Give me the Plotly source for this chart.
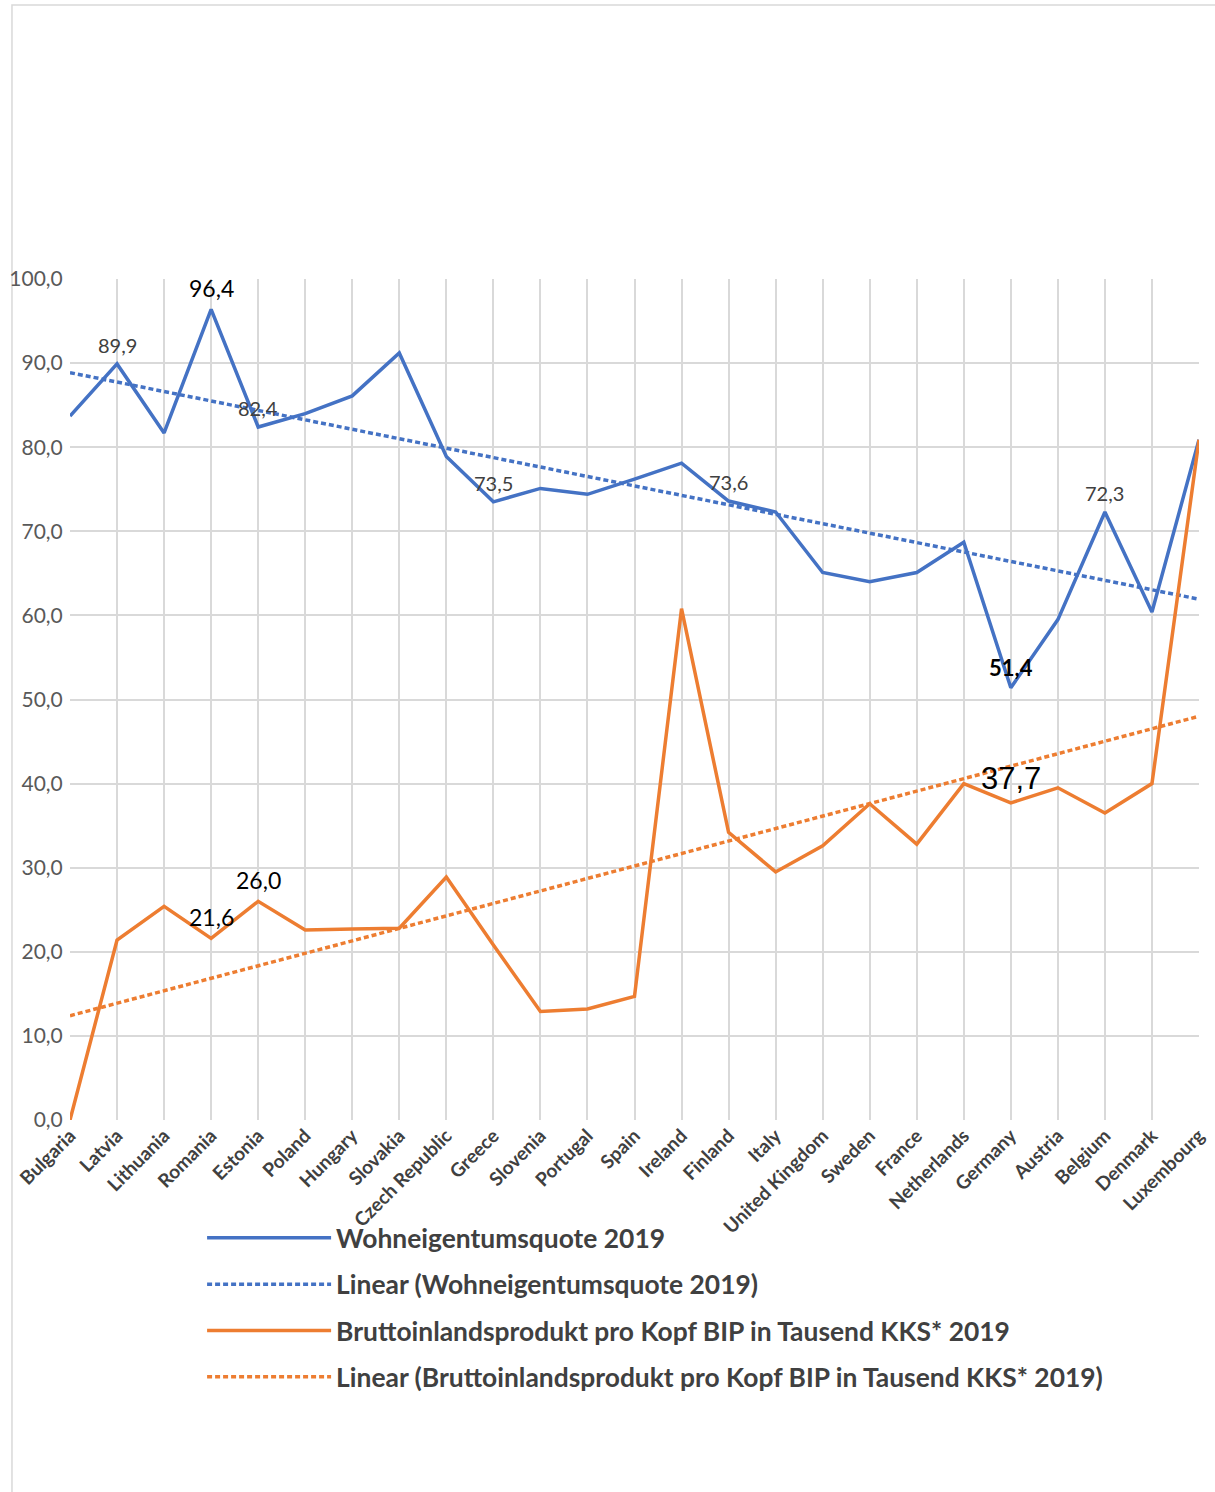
import numpy as np
import plotly.graph_objects as go

countries = ["Bulgaria", "Latvia", "Lithuania", "Romania", "Estonia", "Poland", "Hungary",
             "Slovakia", "Czech Republic", "Greece", "Slovenia", "Portugal", "Spain", "Ireland",
             "Finland", "Italy", "United Kingdom", "Sweden", "France", "Netherlands", "Germany",
             "Austria", "Belgium", "Denmark", "Luxembourg"]

wohneigentum = [83.7, 89.9, 81.7, 96.4, 82.4, 84.0, 86.1, 91.2, 78.9, 73.5, 75.1, 74.4, 76.2,
                78.1, 73.6, 72.3, 65.1, 64.0, 65.1, 68.7, 51.4, 59.5, 72.3, 60.4, 80.9]

bip = [0.0, 21.4, 25.4, 21.6, 26.0, 22.6, 22.7, 22.8, 28.9, 20.8, 12.9, 13.2, 14.7, 60.8,
       34.2, 29.5, 32.6, 37.6, 32.8, 40.0, 37.7, 39.5, 36.5, 40.0, 80.9]

name_w = "Wohneigentumsquote 2019"
name_b = "Bruttoinlandsprodukt pro Kopf BIP in Tausend KKS* 2019"

BLUE = "#4472C4"
ORANGE = "#ED7D31"

# Excel-style linear trendlines
idx = np.arange(len(countries))
trend_w = np.polyval(np.polyfit(idx, wohneigentum, 1), idx)
trend_b = np.polyval(np.polyfit(idx, bip, 1), idx)

fig = go.Figure()
fig.add_trace(go.Scatter(x=countries, y=wohneigentum, mode="lines", name=name_w,
                         line=dict(color=BLUE, width=3.5), legendgroup="a"))
fig.add_trace(go.Scatter(x=countries, y=trend_w, mode="lines", name="Linear (" + name_w + ")",
                         line=dict(color=BLUE, width=3.5, dash="5px,3px"), legendgroup="b"))
fig.add_trace(go.Scatter(x=countries, y=bip, mode="lines", name=name_b,
                         line=dict(color=ORANGE, width=3.5), legendgroup="c"))
fig.add_trace(go.Scatter(x=countries, y=trend_b, mode="lines", name="Linear (" + name_b + ")",
                         line=dict(color=ORANGE, width=3.5, dash="5px,3px"), legendgroup="d"))


def fmt(v):
    return f"{v:.1f}".replace(".", ",")


# data labels: (series, country, font family, size, colour, bold)
labels = [
    (wohneigentum, "Latvia", "Lato", 20, "#404040", False),
    (wohneigentum, "Romania", "Lato", 23, "#000000", False),
    (wohneigentum, "Estonia", "Lato", 20, "#404040", False),
    (wohneigentum, "Greece", "Lato", 20, "#404040", False),
    (wohneigentum, "Finland", "Lato", 20, "#404040", False),
    (wohneigentum, "Belgium", "Lato", 20, "#404040", False),
    (wohneigentum, "Germany", "Lato", 22, "#000000", True),
    (bip, "Romania", "Lato", 23, "#000000", False),
    (bip, "Estonia", "Lato", 23, "#000000", False),
    (bip, "Germany", "Liberation Sans", 31, "#000000", False),
]
for series, c, fam, size, col, bold in labels:
    v = series[countries.index(c)]
    fig.add_annotation(x=c, y=v, text=fmt(v), showarrow=False, yanchor="bottom",
                       yshift=5, font=dict(family=fam, size=size, color=col,
                                           weight="bold" if bold else "normal"))

# chart frame
fig.add_shape(type="rect", xref="paper", yref="paper", x0=-0.0514, x1=1.05, y0=-0.6, y1=1.3258,
              line=dict(color="#d9d9d9", width=1.5), layer="below")

fig.update_xaxes(range=[0, len(countries) - 1], showgrid=True, gridcolor="#d9d9d9", gridwidth=2,
                 tickangle=-45, tickfont=dict(family="Lato", size=19, color="#404040", weight="bold"),
                 showline=False, zeroline=False, ticks="", automargin=False)
fig.update_yaxes(range=[0, 100], dtick=10, tickformat=".1f", showgrid=True, gridcolor="#d9d9d9",
                 gridwidth=2, tickfont=dict(family="Lato", size=21, color="#595959"),
                 zeroline=False, ticks="outside", ticklen=2, tickcolor="rgba(0,0,0,0)",
                 automargin=False)

fig.update_layout(
    width=1215, height=1492,
    margin=dict(l=70, r=16, t=279, b=372),
    plot_bgcolor="white", paper_bgcolor="white",
    separators=",.",
    showlegend=True,
    legend=dict(orientation="v", x=0.117, xanchor="left", y=-0.112, yanchor="top",
                font=dict(family="Lato", size=26.4, color="#404040", weight="bold"),
                itemwidth=124, tracegroupgap=9, traceorder="grouped",
                bgcolor="rgba(0,0,0,0)"),
)

fig.write_html("out.html", config={"displayModeBar": False},
               post_script="document.body.style.margin='0';")
